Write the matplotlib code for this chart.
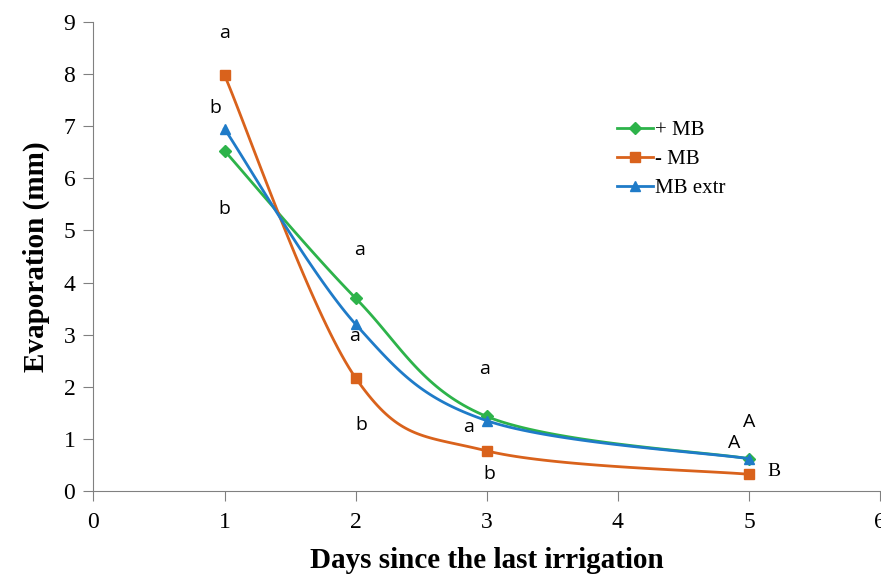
import matplotlib
matplotlib.use("Agg")
import matplotlib.pyplot as plt
import numpy as np

days = [1, 2, 3, 5]
plus_mb = [6.53, 3.70, 1.43, 0.62]
minus_mb = [7.98, 2.17, 0.77, 0.32]
mb_extr = [6.95, 3.20, 1.35, 0.62]

series_names = ["+ MB", "- MB", "MB extr"]
series_values = [plus_mb, minus_mb, mb_extr]
series_colors = ["#2db34a", "#d9621c", "#1f7bc8"]
series_markers = ["D", "s", "^"]
marker_sizes = [6, 7, 7]

# significance letters: (x, y, text, font)
letters = [
    (1.0, 8.78, "a", "sans"), (0.93, 7.35, "b", "sans"), (1.0, 5.42, "b", "sans"),
    (2.03, 4.62, "a", "sans"), (1.99, 2.98, "a", "sans"), (2.04, 1.27, "b", "sans"),
    (2.98, 2.35, "a", "sans"), (2.86, 1.22, "a", "sans"), (3.02, 0.32, "b", "sans"),
    (5.0, 1.33, "A", "sans"), (4.89, 0.92, "A", "sans"), (5.19, 0.38, "B", "serif"),
]


def smooth(x, y, n=40):
    # Excel-style smoothed line: cubic Bezier with Catmull-Rom control points
    x = np.asarray(x, float)
    y = np.asarray(y, float)
    px, py = [], []
    for i in range(len(x) - 1):
        i0, i3 = max(i - 1, 0), min(i + 2, len(x) - 1)
        c1 = (x[i] + (x[i + 1] - x[i0]) / 6, y[i] + (y[i + 1] - y[i0]) / 6)
        c2 = (x[i + 1] - (x[i3] - x[i]) / 6, y[i + 1] - (y[i3] - y[i]) / 6)
        t = np.linspace(0, 1, n)
        bx = ((1 - t) ** 3 * x[i] + 3 * (1 - t) ** 2 * t * c1[0]
              + 3 * (1 - t) * t ** 2 * c2[0] + t ** 3 * x[i + 1])
        by = ((1 - t) ** 3 * y[i] + 3 * (1 - t) ** 2 * t * c1[1]
              + 3 * (1 - t) * t ** 2 * c2[1] + t ** 3 * y[i + 1])
        px.extend(bx)
        py.extend(by)
    return px, py


fig = plt.figure(figsize=(8.81, 5.79), dpi=100)
ax = fig.add_axes([0.106, 0.152, 0.893, 0.81])

for name, vals, col, mk, ms in zip(series_names, series_values, series_colors,
                                   series_markers, marker_sizes):
    sx, sy = smooth(days, vals)
    ax.plot(sx, sy, color=col, lw=2)
    ax.plot(days, vals, linestyle="none", marker=mk, color=col, ms=ms)
    ax.plot([], [], color=col, lw=2, marker=mk, ms=ms, label=name)

for x, y, t, f in letters:
    fam = "Liberation Serif" if f == "serif" else "Open Sans"
    ax.text(x, y, t, ha="center", va="center", fontsize=14, family=fam)

ax.set_xlim(0, 6)
ax.set_ylim(0, 9)
ax.set_xticks(range(0, 7))
ax.set_yticks(range(0, 10))
for s in ["top", "right"]:
    ax.spines[s].set_visible(False)
for s in ["left", "bottom"]:
    ax.spines[s].set_color("#808080")
ax.tick_params(direction="out", length=7, color="#808080", labelsize=17, pad=8)
ax.tick_params(axis="y", pad=6)
for lab in ax.get_xticklabels() + ax.get_yticklabels():
    lab.set_family("Liberation Serif")

ax.set_xlabel("Days since the last irrigation", family="Liberation Serif",
              fontsize=21, fontweight="bold", labelpad=10)
ax.set_ylabel("Evaporation (mm)", family="Liberation Serif",
              fontsize=21, fontweight="bold", labelpad=10)

ax.legend(loc="upper left", bbox_to_anchor=(0.642, 0.83), frameon=False,
          prop={"family": "Liberation Serif", "size": 15}, handlelength=1.7,
          handletextpad=0.1, labelspacing=0.45)

fig.savefig("out.png", dpi=100)
